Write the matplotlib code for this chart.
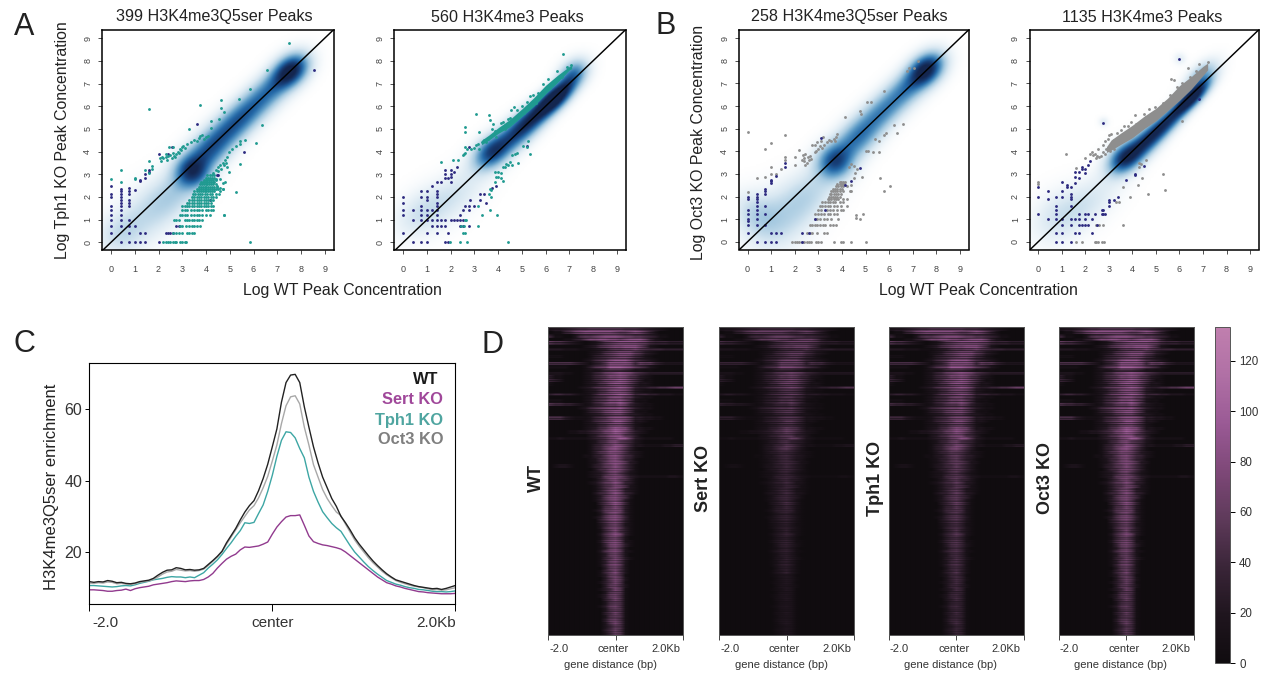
import numpy as np
import matplotlib
matplotlib.use('Agg')
import matplotlib.pyplot as plt
from matplotlib.colors import LinearSegmentedColormap

W, H = 1266, 673
plt.rcParams['font.family'] = ['Liberation Sans', 'DejaVu Sans']

navy = "#2d2a80"
teal = "#1f9a90"
gray = "#8e8e8e"

ticks_log = [0, 1, 2, 3, 4, 5, 6, 7, 8, 9]
titles = ["399 H3K4me3Q5ser Peaks", "560 H3K4me3 Peaks", "258 H3K4me3Q5ser Peaks", "1135 H3K4me3 Peaks"]

# density ridges: x, y, sd along diagonal, sd across it, weight
a1_ridge = [(7.6, 7.6, .6, .42, .82), (6.7, 6.7, .8, .45, .42), (5.7, 5.7, .8, .46, .42), (4.8, 4.8, .8, .47, .44),
            (4.0, 3.9, .7, .5, .45), (3.4, 3.1, .5, .5, .6), (2.7, 2.2, .9, .6, .18), (1.5, 1.2, 1.2, .75, .17), (0.3, 0.3, .7, .6, .13)]
a2_ridge = [(6.5, 6.45, .7, .3, .95), (5.6, 5.6, .8, .34, .58), (4.7, 4.75, .8, .4, .52), (3.7, 3.95, .6, .42, .6),
            (7.2, 7.5, .5, .36, .42), (2.2, 2.1, 1.2, .6, .14), (0.7, 1.3, .9, .6, .14)]
b1_ridge = [(7.6, 7.6, .6, .42, .82), (6.7, 6.7, .8, .45, .42), (5.6, 5.6, .8, .46, .4), (4.6, 4.5, .75, .5, .45),
            (3.7, 3.5, .55, .52, .6), (2.6, 2.1, 1.0, .68, .18), (1.3, 0.9, 1.1, .85, .18), (0.3, 1.2, .6, .75, .16)]
b2_ridge = [(6.5, 6.35, .7, .24, .95), (5.4, 5.2, .8, .28, .62), (4.4, 4.25, .8, .35, .62), (3.6, 3.65, .55, .4, .58),
            (2.0, 1.6, 1.3, .6, .14), (6.9, 7.3, .6, .3, .35), (2.75, 5.27, .15, .15, .1), (6.0, 8.07, .18, .18, .1), (0.7, 1.2, .9, .65, .11)]

# scatter points. quantised columns are x -> ys, rows are y -> xs
a1_navy_cols = {0: [.41, .74, 1, 1.2, 1.41, 1.58, 2, 2.13, 2.5],
                .41: [0, .74, 1, 1.2, 1.41, 1.58, 1.74, 1.87, 2, 2.13, 2.25, 2.35],
                .74: [0, .41, .74, 1, 1.58, 1.74, 1.87, 2.13, 2.25, 2.4],
                1: [0, .74, 2.3], 1.22: [0, .41, 2.7, 2.75], 1.41: [0, .41, 2.85, 3.0], 1.58: [3.1, 3.2]}
a1_navy_extra = [(2, 3.9), (2.4, 3.9), (2.55, 4.2), (3.6, 5.2), (8.55, 7.6), (5.6, 4.0), (4.5, 2.95), (4.45, 2.95), (4.15, 1.85),
                 (2.3, .41), (2.4, .41), (2.5, .41), (2.6, .41), (2.75, .74), (2.85, .74), (2.0, 0)]
a1_teal_rows = {0: [2.2, 2.3, 2.4, 2.5, 2.6, 2.7, 2.75, 2.9, 3.0, 3.1, 3.15, 5.85],
                .41: [2.6, 2.75, 2.85, 3.0, 3.2, 3.3, 3.4, 3.5],
                .74: [2.9, 3.0, 3.15, 3.3, 3.4, 3.5, 3.6, 3.75],
                1: [2.65, 2.75, 2.85, 3.1, 3.2, 3.3, 3.4, 3.5, 3.6, 3.7, 3.85],
                1.22: [2.9, 3.0, 3.1, 3.2, 3.35, 3.5, 3.6, 3.7, 3.85, 4.0, 4.15, 4.75],
                1.41: [3.0, 3.1, 3.2, 3.35, 3.5, 3.6, 3.7, 3.85, 4.0, 4.1, 4.2, 4.3],
                1.58: [3.0, 3.1, 3.2, 3.3, 3.4, 3.5, 3.6, 3.7, 3.8, 3.9, 4.0, 4.1, 4.2, 4.3],
                1.74: [3.2, 3.3, 3.4, 3.5, 3.6, 3.7, 3.8, 3.9, 4.0, 4.1, 4.2],
                1.87: [3.3, 3.4, 3.5, 3.6, 3.7, 3.8, 3.9, 4.0, 4.1, 4.2, 4.3],
                2.0: [3.4, 3.5, 3.6, 3.7, 3.8, 3.9, 4.0, 4.1, 4.2, 4.3, 4.4],
                2.13: [3.45, 3.55, 3.65, 3.75, 3.85, 3.95, 4.05, 4.15, 4.25, 4.4, 4.55],
                2.25: [3.5, 3.6, 3.7, 3.78, 3.86, 3.94, 4.02, 4.1, 4.18, 4.26, 4.34, 4.6],
                2.35: [3.6, 3.7, 3.78, 3.86, 3.94, 4.02, 4.1, 4.18, 4.26, 4.34, 4.42, 4.7],
                2.45: [3.7, 3.78, 3.86, 3.94, 4.02, 4.1, 4.18, 4.26, 4.34, 4.45],
                2.55: [3.75, 3.82, 3.9, 3.98, 4.06, 4.14, 4.22, 4.3, 4.4],
                2.65: [3.8, 3.88, 3.96, 4.04, 4.12, 4.2, 4.28, 4.35],
                2.75: [3.9, 3.98, 4.06, 4.14, 4.22, 4.3, 4.4],
                2.85: [4.0, 4.08, 4.16, 4.24, 4.32],
                2.95: [4.05, 4.15, 4.25, 4.35]}
a1_teal_extra = [(0, 2.8), (.41, 3.17), (.41, 2.65), (1, 2.85), (1, 2.8), (1.41, 3.2), (1.58, 3.57), (1.74, 3.35), (1.74, 3.25), (1.58, 3.05),
                 (1.6, 5.87), (3.76, 6.05), (4.65, 6.27), (4.65, 5.9), (4.75, 5.75), (5.4, 6.3), (5.85, 6.75), (6.55, 7.6), (7.5, 8.77),
                 (3.3, 5.0), (4.2, 5.35), (4.55, 5.45), (4.2, 5.05), (6.35, 5.17), (6.1, 4.37), (5.65, 4.5), (5.45, 4.45), (5.45, 4.35), (5.25, 4.25),
                 (5.25, 2.2), (4.75, 1.2), (5.45, 3.45), (5.1, 4.1), (4.95, 4.0), (2.05, 3.7), (2.1, 3.6), (2.15, 3.75), (2.2, 3.7), (2.3, 3.75),
                 (2.35, 3.65), (2.4, 3.8), (2.5, 3.85), (2.55, 3.7), (2.6, 3.95), (2.65, 3.8), (2.7, 3.75), (2.75, 3.9), (2.8, 4.0), (2.85, 3.95),
                 (2.9, 4.1), (2.95, 4.05), (3.0, 4.2), (3.05, 4.25), (3.1, 4.15), (2.6, 4.2), (2.45, 4.2), (2.3, 3.9), (3.2, 4.35), (3.35, 4.4),
                 (3.5, 4.5), (3.6, 4.45), (3.7, 4.6), (3.85, 4.75), (3.9, 4.55), (4.0, 4.65), (3.75, 4.7), (4.1, 4.7),
                 (4.3, 3.05), (4.4, 3.2), (4.5, 3.3), (4.5, 3.15), (4.6, 3.4), (4.65, 3.25), (4.7, 3.5), (4.75, 3.4), (4.8, 3.65), (4.85, 3.5),
                 (4.9, 3.3), (4.9, 3.75), (4.95, 3.1), (4.6, 2.8), (4.7, 2.6), (4.8, 2.65), (4.4, 2.8), (4.45, 2.5), (4.5, 2.35), (4.6, 2.4), (4.7, 2.35)]

a2_navy_cols = {0: [2.0, 1.75, 1.41, 1.22, .41], .41: [1.41, 1, 0], .74: [2.25, 2, 1.58, 1.41, 1.22, 1, 0],
                1: [2.25, 2, 1.87, 1.41, 1.22, 1, .41, 0], 1.22: [2.5, 1.41, 1, .74],
                1.41: [2.65, 2.25, 2.13, 2, 1.74, 1.58, 1.41, 1.22, 1, .74, .41], 1.58: [2.65, 1, .74],
                1.74: [3.2, 3, 2.85, 1, .74, 0], 1.87: [2.85, .41, 0], 2: [3.2, 3.0, 2.9, 2.65, 1],
                2.13: [3.1, 1], 2.26: [3.3, 1], 2.4: [1, 1.22, .74], 2.5: [1.41, 1, .74], 2.6: [1.58], 2.75: [1.58, 1.41, .74, 4.2],
                2.8: [1.85], 3: [1.58], 3.25: [2.13, 1.85], 3.4: [2.13], 3.5: [1.74], 3.75: [2.4], 3.9: [2.5], 5.2: [4.25]}
a2_teal_pts = [(4.4, 0), (1.98, 0), (2.4, 0), (2.7, 0), (2.5, .41), (2.6, .41), (2.45, .74), (2.55, .74), (3.15, .74), (2.6, 1), (2.65, 1),
               (3.3, 1.22), (3.65, 1.41), (3.95, 1.22), (3.15, 1.58), (3.6, 2.13), (3.7, 2), (3.65, 2.35), (3.7, 2.3), (3.85, 2.65), (4.0, 2.9),
               (4.1, 2.85), (3.9, 2.9), (3.85, 3.1), (4, 3.1), (4.1, 3.05), (4.2, 2.7), (4.2, 3.3), (4.3, 3.3), (4.35, 3.45), (4.4, 3.4), (4.5, 3.55),
               (4.6, 3.85), (4.7, 3.9), (4.8, 3.95), (4.6, 3.4), (4.85, 3.5), (5.05, 4.25), (5.25, 4.45), (5.35, 3.9), (5.2, 4.2), (1.58, 3.55), (2.1, 3.65),
               (2.3, 3.65), (2.5, 3.85), (2.55, 3.9), (2.6, 3.95), (2.6, 4.85), (2.6, 5.1), (3.05, 5.65), (3.2, 4.85), (3.6, 5.6), (3.65, 5.4), (6.75, 8.3),
               (2.6, 4.2), (2.7, 4.1), (2.85, 4.1), (3, 4.15), (3.05, 4.3), (3.15, 4.35), (3.2, 4.1), (3.3, 4.4), (3.4, 4.5), (3.5, 4.4), (3.55, 4.55),
               (3.75, 5.0), (3.8, 5.2), (3.85, 4.9), (4.1, 5.25), (4.2, 5.3), (4.4, 5.45), (4.5, 5.5), (4.55, 5.85), (4.65, 5.95), (4.8, 5.85), (5.0, 6.0),
               (5.2, 6.2), (5.35, 6.45), (5.45, 6.5), (5.7, 6.6), (5.9, 7.0), (6.1, 7.2), (6.5, 7.55), (6.9, 7.75), (7.05, 7.8), (3.9, 4.65), (4.3, 5.0),
               (4.7, 5.4), (5.1, 5.7), (5.6, 6.15), (6.2, 6.8), (6.7, 7.3)]
a2_band_x = [3.3, 3.6, 4.0, 4.5, 5.0, 5.5, 6.0, 6.5, 7.0, 7.1]
a2_band_lo = [4.3, 4.5, 4.8, 5.1, 5.55, 6.0, 6.55, 7.05, 7.6, 7.65]
a2_band_hi = [4.5, 4.72, 5.05, 5.42, 5.88, 6.37, 6.92, 7.36, 7.75, 7.8]

b1_navy_cols = {0: [.41, .74, .9, 1, 1.22, 1.41, 1.87, 2.0], .41: [0, .74, 1, 1.22, 1.41, 1.58, 1.74, 1.87, 2, 2.13],
                .74: [0, .74, 1.22, 1.58, 2.13, 2.25, 2.32], 1: [0, .41, 2.6, 2.7, 2.75], 1.22: [0, .41, 2.9], 1.41: [.41], 1.58: [3.3, 3.5]}
b1_navy_extra = [(2.3, 0), (2.3, .41), (2.6, .41), (2.85, 1), (3.1, 4.6), (3.3, 1.41), (4.4, 2.7), (4.75, 3.25), (4.15, 2.5)]
b1_gray_rows = {0: [1.9, 2.0, 2.1, 2.2, 2.3, 2.4, 2.5, 2.6, 2.7, 2.9, 3.0, 3.1, 3.65, 3.95, 4.05, 4.4, 5.0],
                .41: [2.5, 2.65, 2.75, 2.95, 3.25, 3.35],
                .74: [2.65, 2.75, 2.85, 2.95, 3.05, 3.2, 3.3, 3.5, 3.6, 3.75],
                1: [2.85, 2.95, 3.05, 3.25, 3.35, 3.55, 3.85, 4.75],
                1.22: [2.85, 3.0, 3.1, 3.25, 3.4, 3.5, 3.65, 3.8, 4.9],
                1.41: [3.0, 3.1, 3.35, 3.5, 3.6, 3.8, 3.95, 4.05],
                1.58: [3.05, 3.15, 3.3, 3.4, 3.5, 3.65, 3.8, 3.95, 4.2],
                1.74: [3.15, 3.3, 3.4, 3.5, 3.6, 3.7, 3.9, 4.05],
                1.87: [3.4, 3.45, 3.55, 3.65, 3.75, 3.85, 4.05, 4.2],
                2.0: [3.45, 3.55, 3.6, 3.7, 3.8, 3.9],
                2.13: [3.5, 3.55, 3.65, 3.75, 3.85, 3.95],
                2.25: [3.55, 3.6, 3.7, 3.8, 3.9, 4.05, 4.4],
                2.35: [3.6, 3.7, 3.8, 3.9, 4.0],
                2.45: [3.75, 3.85, 3.95, 4.05, 4.2],
                2.55: [3.8, 3.9, 4.0, 4.1],
                2.65: [3.9, 3.95, 4.05, 4.15]}
b1_gray_extra = [(0, 4.85), (0, 2.2), (.41, 2.8), (.74, 4.1), (1, 4.35), (1, 3.3), (1, 3), (1.58, 4.7), (.74, 2.85), (1.58, 3.75), (1.58, 3.6),
                 (1.4, 3.2), (1.22, 3.0), (2.0, 3.4), (2.0, 3.75), (2.2, 4.05), (2.3, 3.6), (2.4, 3.7), (2.45, 3.4), (2.5, 3.5), (2.55, 3.75), (2.6, 3.6),
                 (2.65, 3.8), (2.7, 3.65), (2.45, 3.9), (2.4, 3.55), (2.35, 3.85), (2.75, 4.3), (2.85, 4.3), (2.95, 4.4), (3.05, 4.25), (3.1, 4.45), (3.2, 4.65),
                 (3.25, 4.3), (3.35, 4.4), (3.45, 4.5), (3.55, 4.45), (3.65, 4.55), (3.75, 4.65), (3.8, 4.75), (3.7, 4.45), (2.9, 4.0), (3.0, 4.1), (3.15, 4.15),
                 (2.85, 3.95), (4.15, 5.5), (4.75, 5.8), (4.8, 5.65), (5.05, 6.17), (5.25, 6.17), (5.8, 6.65), (6.75, 7.55), (6.85, 7.7), (7.05, 7.7), (7.2, 8.0),
                 (5.0, 4.0), (5.1, 4.0), (5.3, 3.95), (5.55, 3.95), (5.4, 4.55), (5.55, 4.45), (5.8, 4.7), (5.85, 4.8), (6.2, 5.15), (6.35, 4.8), (6.6, 5.2),
                 (5.6, 2.8), (5.8, 2.25), (6.05, 2.45), (4.3, 3.3), (4.4, 3.45), (4.5, 3.35), (4.55, 3.05), (4.65, 3.2), (4.85, 2.85), (4.5, 2.8), (4.4, 2.5), (4.35, 2.25), (4.6, 1.2), (4.6, 1.05)]

b2_navy_cols = {0: [2.4, 2, 1.22], .41: [2.25, 1.87, 1], .74: [2, 1.58, 1.41, 1.22, 1, .41, 0], 1: [2.65, 2.25, 2, 1, .74, .41, 0],
                1.22: [2.5, 2.4], 1.41: [2.4, 2.13, 2, 1.87, 1.58, 1, .74, 0], 1.58: [2.6, 2.85, 3.1, 1, .41], 1.74: [3.1, 2.8, 1.22, 1, .74, .41],
                1.87: [3.3, 3.2, .74], 2: [3.2, 3.05, 1.22, 1, .74], 2.13: [3.4, 1.22, .74], 2.2: [3.55], 2.3: [1, .41], 2.4: [1.22], 2.5: [.74],
                2.7: [1.41, 1.22], 2.75: [5.27, 1.41, 1.22], 2.85: [1.22], 3: [1.74, 1.58, 1.85], 3.2: [1.85], 3.4: [2], 3.75: [2.75],
                4.1: [3, 2.95], 4.5: [3.35], 6.0: [8.07], 6.85: [6.32]}
b2_gray_pts = [(0, 2.65), (0, 2.55), (1.2, 3.9), (1.6, 3.25), (2.0, 3.7), (2.4, 3.9), (2.55, 4.1), (2.3, 3.95), (2.2, 3.9), (2.75, 4.3), (2.6, 3.75),
               (2.45, 3.7), (2.35, 3.85), (2.5, 3.8), (2.65, 3.8), (2.75, 3.95), (2.85, 3.9), (3.0, 4.7), (2.95, 4.55), (2.85, 4.45), (3.2, 4.5), (3.5, 4.95), (3.65, 5.1),
               (3.8, 5.1), (4.1, 5.6), (4.35, 5.35), (4.6, 5.5), (4.7, 5.85), (4.75, 5.4), (5.15, 5.85), (5.5, 6.2), (5.65, 7.2), (5.75, 7.15), (6.35, 7.7),
               (6.85, 7.85), (7.2, 7.95), (4.35, 3.45), (4.3, 3.5), (4.6, 3.6), (4.4, 2.8), (4.25, 2.5), (4.65, 2.1), (3.9, 2), (3.6, 2.4), (3.45, 1.75),
               (3.6, .74), (5.3, 3), (5.4, 2.3), (6.1, 5.35), (2.6, .74), (2.75, .74), (2.45, 0), (2.4, 0), (2.55, 0), (2.7, 0), (2.8, 0), (1.6, 0), (1.87, 0),
               (2.45, .74), (3.3, 1.74), (4.3, 3.3), (3.1, 4.75), (3.35, 4.8), (3.95, 5.3), (4.15, 5.2), (4.5, 5.65), (4.95, 5.95), (5.3, 6.15), (5.6, 6.5),
               (5.9, 6.85), (6.1, 7.0), (6.45, 7.3), (6.7, 7.55), (2.9, 4.1), (3.05, 4.0), (3.2, 4.1)]
b2_band_x = [2.9, 3.1, 3.5, 4.0, 4.5, 5.0, 5.5, 6.0, 6.5, 7.0, 7.2]
b2_band_lo = [3.95, 4.05, 4.3, 4.6, 5.0, 5.35, 5.8, 6.25, 6.75, 7.35, 7.6]
b2_band_hi = [4.2, 4.5, 4.8, 5.15, 5.55, 5.9, 6.35, 6.9, 7.3, 7.75, 7.9]

# panel C profiles, one value per 0.05 kb
profile_x = [round(-2 + 0.05 * i, 2) for i in range(81)]
wt_y = [11.7, 11.5, 11.7, 11.6, 12.0, 11.8, 11.4, 11.5, 11.2, 11.1, 11.3, 11.7, 11.9, 12.1, 12.6, 13.5, 14.3, 14.9, 15.0, 15.6, 15.4,
        15.0, 15.1, 14.9, 15.0, 15.4, 16.5, 17.6, 18.8, 20.2, 22.6, 24.6, 26.6, 29.0, 31.2, 33.0, 34.4, 37.2, 40.6, 44.6, 49.5,
        54.5, 62.0, 67.5, 69.6, 69.8, 67.5, 60.7, 55.0, 49.5, 45.0, 41.0, 38.0, 35.0, 32.8, 30.0, 28.2, 26.2, 24.0, 22.2, 20.6, 19.0,
        17.5, 16.2, 15.0, 13.9, 13.0, 12.2, 11.8, 11.4, 11.0, 10.6, 10.3, 10.1, 9.9, 9.7, 9.8, 9.5, 9.8, 10.2, 10.6]
oct3_y = [11.3, 11.2, 11.4, 11.3, 11.6, 11.5, 11.1, 11.2, 11.0, 10.9, 11.1, 11.5, 11.7, 11.9, 12.3, 13.0, 13.8, 14.4, 14.6, 15.1, 14.9,
          14.7, 14.8, 14.6, 14.8, 15.2, 16.2, 17.4, 18.6, 20.0, 22.2, 24.2, 26.2, 28.2, 30.0, 31.8, 33.0, 35.2, 38.0, 41.2, 45.5,
          50.0, 56.0, 61.0, 63.5, 63.8, 61.5, 55.0, 50.0, 44.5, 41.0, 37.5, 35.0, 33.0, 31.2, 30.2, 27.8, 25.6, 23.4, 21.6, 20.0, 18.4,
          17.0, 15.8, 14.6, 13.6, 12.8, 12.0, 11.5, 11.1, 10.7, 10.4, 10.2, 10.0, 9.7, 9.4, 9.5, 9.3, 9.4, 9.7, 10.0]
tph1_y = [10.6, 10.6, 10.5, 10.4, 10.3, 10.2, 10.3, 10.5, 10.6, 10.5, 10.8, 11.2, 11.5, 11.8, 12.2, 12.4, 12.6, 12.9, 13.1, 13.0, 13.0,
          12.8, 13.0, 12.8, 13.5, 14.2, 15.5, 16.6, 17.8, 19.3, 21.0, 22.6, 24.4, 26.0, 28.2, 28.0, 28.3, 30.8, 33.2, 37.0, 41.5,
          46.8, 51.3, 53.7, 53.5, 52.0, 49.0, 46.4, 41.0, 37.0, 34.0, 31.3, 29.6, 28.0, 26.8, 25.8, 23.8, 21.8, 20.0, 18.6, 17.2, 15.9,
          14.8, 13.8, 12.9, 12.0, 11.5, 11.0, 10.7, 10.3, 10.0, 9.8, 9.5, 9.4, 9.2, 9.0, 8.9, 8.9, 8.8, 8.9, 9.1]
sert_y = [9.4, 9.4, 9.3, 9.2, 9.0, 9.0, 9.2, 9.3, 9.6, 9.2, 9.7, 10.0, 10.2, 10.4, 10.8, 11.0, 11.2, 11.4, 11.7, 11.9, 11.8,
          11.7, 11.9, 12.0, 12.0, 12.3, 13.0, 14.0, 15.5, 16.8, 18.0, 18.8, 19.4, 20.6, 21.4, 21.3, 21.5, 21.7, 22.2, 22.8, 25.0,
          27.0, 28.5, 29.8, 30.2, 30.2, 30.4, 27.5, 24.5, 22.9, 22.4, 22.0, 21.8, 21.5, 21.2, 20.8, 20.0, 19.0, 18.0, 17.0, 16.0, 15.0,
          14.0, 13.0, 12.2, 11.4, 11.0, 10.5, 10.2, 9.8, 9.5, 9.2, 8.9, 8.8, 8.6, 8.5, 8.4, 8.3, 8.3, 8.3, 8.4]

# panel D: coarse cells, 90 rows by 27 columns, hex digit * heat_unit
heat_unit = 9.5
heat_rows = [
    "233456778 888888777 654321000", "011457899 999987789 864200000", "411002566 789998776 654311000",
    "000113468 899887899 974210000", "655432101 246789999 875444333", "000000012 356788999 752100000",
    "333222111 234677889 765554444", "000000001 235678886 532100000", "111000001 345678875 421000000",
    "000000012 456899975 432100000", "555554321 346999985 766432222", "111100013 567aaa986 542100000",
    "000000012 235666542 211000000", "222110012 45789a986 543333333", "311000012 456889865 321000000",
    "432000012 45789a975 311000000", "100000012 356899864 221000000", "000000123 56789a974 334455677",
    "000000012 356899863 211000000", "344332112 46789a974 443322211", "000000012 456899763 211000000",
    "111000012 456889752 110000000", "655443212 45788a853 211000000", "000000124 567889753 211000000",
    "000000013 457899752 110000000", "000000012 346788643 211000000", "555321112 456899863 322110000",
    "000000012 456799752 210000000", "000000012 356899752 100000000", "000000012 3568a9852 211000000",
    "000011223 4578a9753 210000000", "000000002 356899653 100000000", "112111112 34578a963 211111100",
    "000000001 245786542 100000000", "000000001 346798642 211112233", "000000001 346897531 000000000",
    "000000001 356887532 100000000", "000000011 346897542 100000000", "000000001 245786431 000000000",
    "000000001 246898632 000000000", "012210001 346797531 000000000", "000000000 245787531 000000000",
    "000000001 235786421 000000000", "000000001 236787532 111111221", "000000000 135786531 000000000",
    "000000001 246797431 000000000", "000000000 135687521 000000000", "000000000 135786321 000000000",
    "000000000 245797431 000000000", "000000000 136897520 000000000", "000000000 135786310 000000000",
    "000000000 035797410 000000000", "000000000 025686310 000000000", "000000000 136787310 000000000",
    "000000000 025786310 000000000", "000000000 136897410 000000000", "000000000 035786310 000000000",
    "000000000 024675210 000000000", "000000000 025786310 000000000", "000000000 014685310 000000000",
    "000000000 025797310 000000000", "000000000 014675200 000000000", "000000000 025786210 000000000",
    "000000000 014786310 000000000", "000000000 013675200 000000000", "000000000 025786210 000000000",
    "000000000 013675200 000000000", "000000000 014686310 000000000", "000000000 013675200 000000000",
    "000000000 014786200 000000000", "000000000 003675200 000000000", "000000000 014685200 000000000",
    "000000000 013675100 000000000", "000000000 003686200 000000000", "000000000 013575100 000000000",
    "000000000 003675200 000000000", "000000000 013586100 000000000", "000000000 002565100 000000000",
    "000000000 013675100 000000000", "000000000 003575100 000000000", "000000000 002565100 000000000",
    "000000000 013675100 000000000", "000000000 002565100 000000000", "000000000 003575100 000000000",
    "000000000 002565100 000000000", "000000000 003675100 000000000", "000000000 002575100 000000000",
    "000000000 002465100 000000000", "000000000 003575100 000000000", "000000000 002465100 000000000",
]
# thin line streaks on top of the cells, one digit per screen row
row_shade = ("9206815037 6182905274 8150629371 7049183625 9162075384 6281739051 8347162905 7258196340 6917382504 8265917043 "
             "7586947368 5947683759 6874957386 5968748657 7495863748 6957486375 8649578364 7586495837 6847596385 7496385764 "
             "6758476859 5768495867 7596847586 6485975864 7586496758 6475869574 8657496857 6958476758 5867495768 6475869575 "
             "68574968").replace(' ', '')
heat_names = ["WT", "Sert KO", "Tph1 KO", "Oct3 KO"]
# brightness of each KO against WT, for five depth bands from top to bottom
wt_gain = [1, 1, 1, 1, 1]
sert_gain = [.75, .62, .5, .42, .3]
tph1_gain = [.95, .85, .7, .65, .62]
oct3_gain = [1, .98, .92, .9, .88]
cbar_ticks = [0, 20, 40, 60, 80, 100, 120]


def box(l, t, r, b):
    return [l / W, 1 - b / H, (r - l) / W, (b - t) / H]


def ptext(x, y, s, **kw):
    kw.setdefault('ha', 'center')
    kw.setdefault('va', 'center')
    kw.setdefault('color', '#222222')
    fig.text(x / W, 1 - y / H, s, **kw)


def from_cols(cols):
    return [(x, y) for x, ys in cols.items() for y in ys]


def from_rows(rows):
    return [(x, y) for y, xs in rows.items() for x in xs]


blues = LinearSegmentedColormap.from_list("smooth", ["#ffffff", "#d9e8f2", "#a5c9e0", "#5b9ac6", "#2469a8", "#173f78", "#14264f"])
heat_cmap = LinearSegmentedColormap.from_list("heat", ["#100c0f", "#1f151e", "#3a2538", "#5e3a5a", "#7e4878", "#9a5a95", "#b070a5", "#c07fae"])

fig = plt.figure(figsize=(W / 100, H / 100), dpi=100)


# panels A and B
def scatter_panel(rect, xlim, ylim, ridge, groups, title, title_x, band=None, band_color=None):
    ax = fig.add_axes(box(*rect))
    gx, gy = np.meshgrid(np.linspace(xlim[0], xlim[1], 160), np.linspace(ylim[0], ylim[1], 160))
    dens = np.zeros_like(gx)
    for cx, cy, along, across, w in ridge:
        u = ((gx - cx) + (gy - cy)) / np.sqrt(2)
        v = ((gy - cy) - (gx - cx)) / np.sqrt(2)
        dens += w * np.exp(-0.5 * (u ** 2 / along ** 2 + v ** 2 / across ** 2))
    ax.imshow(dens, origin='lower', extent=[xlim[0], xlim[1], ylim[0], ylim[1]], aspect='auto', cmap=blues, vmin=0, vmax=.85,
              interpolation='bilinear', zorder=1)
    if band is not None:
        ax.fill_between(band[0], band[1], band[2], color=band_color, lw=0, zorder=3)
    for pts, c in groups:
        ax.scatter(*zip(*pts), s=4.2, color=c, linewidths=0, zorder=4)
    ax.plot([-1, 10], [-1, 10], color='black', lw=1.05, zorder=5)
    ax.set_xlim(xlim)
    ax.set_ylim(ylim)
    ax.set_xticks(ticks_log)
    ax.set_yticks(ticks_log)
    ax.tick_params(length=3, width=0.6, color='#333333', labelsize=6.5, labelcolor='#444444')
    ax.tick_params(axis='x', pad=8)
    ax.tick_params(axis='y', pad=4)
    for lab in ax.get_yticklabels():
        lab.set_rotation(90)
        lab.set_va('center')
    for sp in ax.spines.values():
        sp.set_linewidth(1.1)
    ptext(title_x, 17, title, fontsize=11.6)
    return ax


scatter_panel((102, 30, 334, 250), (-0.38, 9.39), (-0.34, 9.36), a1_ridge,
              [(from_cols(a1_navy_cols) + a1_navy_extra, navy), (from_rows(a1_teal_rows) + a1_teal_extra, teal)], titles[0], 214)
scatter_panel((394.3, 30, 626, 250), (-0.38, 9.39), (-0.34, 9.36), a2_ridge,
              [(from_cols(a2_navy_cols), navy), (a2_teal_pts, teal)], titles[1], 507, (a2_band_x, a2_band_lo, a2_band_hi), teal)
scatter_panel((739, 30, 969, 249.5), (-0.36, 9.38), (-0.34, 9.36), b1_ridge,
              [(from_rows(b1_gray_rows) + b1_gray_extra, gray), (from_cols(b1_navy_cols) + b1_navy_extra, navy)], titles[2], 849)
scatter_panel((1029.7, 30, 1259, 249.5), (-0.36, 9.38), (-0.34, 9.36), b2_ridge,
              [(b2_gray_pts, gray), (from_cols(b2_navy_cols), navy)], titles[3], 1142, (b2_band_x, b2_band_lo, b2_band_hi), gray)

ptext(63, 140, "Log Tph1 KO Peak Concentration", fontsize=11.4, rotation=90)
ptext(698, 142, "Log Oct3 KO Peak Concentration", fontsize=11.4, rotation=90)
ptext(342, 290, "Log WT Peak Concentration", fontsize=11.4)
ptext(978, 290, "Log WT Peak Concentration", fontsize=11.4)

# panel C
ax = fig.add_axes(box(89.3, 363.3, 455.3, 604.3))
ax.plot(profile_x, sert_y, color="#913a8e", lw=1.0)
ax.plot(profile_x, tph1_y, color="#3da6a4", lw=1.0)
ax.plot(profile_x, oct3_y, color="#a8a8a8", lw=1.0)
ax.plot(profile_x, wt_y, color="#222222", lw=1.0)
ax.set_xlim(-2, 2)
ax.set_ylim(5.34, 72.9)
ax.set_yticks([20, 40, 60])
ax.set_xticks([-2, 0, 2])
ax.set_xticklabels([])
ax.tick_params(axis='y', length=3, width=0.7, labelsize=11.5, labelcolor='#333333', pad=2)
ax.tick_params(axis='x', length=5, width=0.7)
for sp in ax.spines.values():
    sp.set_linewidth(0.8)
ptext(92, 623, "-2.0", fontsize=11, ha='left', color='#333333')
ptext(273, 623, "center", fontsize=11, color='#333333')
ptext(456, 623, "2.0Kb", fontsize=11, ha='right', color='#333333')
ptext(52, 487, "H3K4me3Q5ser enrichment", fontsize=12, rotation=90)
ptext(438, 380, "WT", fontsize=11.8, fontweight='bold', ha='right', color="#1a1a1a")
ptext(443, 400, "Sert KO", fontsize=11.8, fontweight='bold', ha='right', color="#a0489a")
ptext(443, 420, "Tph1 KO", fontsize=11.8, fontweight='bold', ha='right', color="#4fa5a0")
ptext(443, 440, "Oct3 KO", fontsize=11.8, fontweight='bold', ha='right', color="#7f7f7f")

# panel D
heat = np.array([[int(c, 16) for c in r.replace(' ', '')] for r in heat_rows], dtype=float) * heat_unit
shade = 0.5 + np.array([int(c) for c in row_shade]) / 16
heat_lefts = [548.3, 719.3, 888.7, 1058.7]
heat_gains = [wt_gain, sert_gain, tph1_gain, oct3_gain]
heat_label_x = [536, 704, 876, 1046]
im = None
for left, gains, name, lx in zip(heat_lefts, heat_gains, heat_names, heat_label_x):
    ax = fig.add_axes(box(left, 327, left + 135, 635))
    depth = np.repeat(gains, 18)[:, None]
    rows = (heat * depth)[np.arange(len(shade)) * 90 // len(shade)] * shade[:, None]
    im = ax.imshow(rows, aspect='auto', cmap=heat_cmap, vmin=0, vmax=133.5, interpolation='bilinear', extent=[-2, 2, 1, 0])
    ax.set_xticks([-2, 0, 2])
    ax.set_xticklabels([])
    ax.set_yticks([])
    ax.tick_params(axis='x', length=3.5, width=0.7, color='#444444')
    for sp in ax.spines.values():
        sp.set_color('#555555')
        sp.set_linewidth(0.7)
    ptext(left + 1, 649, "-2.0", fontsize=8, ha='left', color='#333333')
    ptext(left + 65, 649, "center", fontsize=8, color='#333333')
    ptext(left + 132, 649, "2.0Kb", fontsize=8, ha='right', color='#333333')
    ptext(left + 62, 665, "gene distance (bp)", fontsize=8, color='#333333')
    ptext(lx, 478, name, fontsize=13, fontweight='bold', rotation=90)

cax = fig.add_axes(box(1215, 327, 1230, 663))
cb = fig.colorbar(im, cax=cax, ticks=cbar_ticks)
cb.ax.tick_params(length=3.5, width=0.7, labelsize=8.3, labelcolor='#333333', pad=3)
cb.outline.set_edgecolor('#555555')
cb.outline.set_linewidth(0.7)

# panel letters
ptext(24, 27, "A", fontsize=22)
ptext(666, 26, "B", fontsize=22)
ptext(24, 344, "C", fontsize=22)
ptext(492, 345, "D", fontsize=22)

fig.savefig("out.png", dpi=100)
